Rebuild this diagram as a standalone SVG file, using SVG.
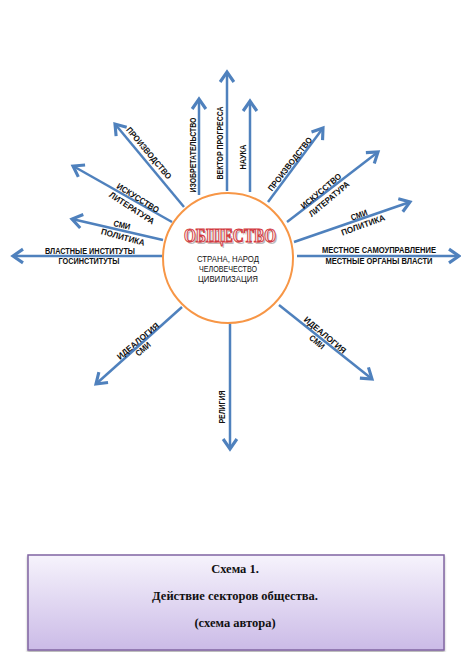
<svg xmlns="http://www.w3.org/2000/svg" width="461" height="652" viewBox="0 0 461 652">
<style>
.ar{stroke:#4f81bd;stroke-width:2.5;fill:none;marker-end:url(#ah)}
.lbl{font-family:"Liberation Sans",Arial,sans-serif;font-weight:bold;font-size:8.5px;fill:#111;text-anchor:middle}
.sub{font-family:"Liberation Sans",Arial,sans-serif;font-size:8.5px;fill:#111;text-anchor:middle}
.cap{font-family:"Liberation Serif","Times New Roman",serif;font-weight:bold;font-size:12.5px;fill:#111;text-anchor:middle}
</style>
<defs>
<marker id="ah" markerUnits="userSpaceOnUse" markerWidth="20" markerHeight="20" viewBox="-12 -8 14 16" refX="0" refY="0" orient="auto">
<path d="M-8,-5.5 L0,0 L-8,5.5" fill="none" stroke="#4f81bd" stroke-width="2.5"/>
</marker>
<linearGradient id="bg" x1="0" y1="0" x2="0" y2="1">
<stop offset="0" stop-color="#f6f3fc"/>
<stop offset="1" stop-color="#cbbbe7"/>
</linearGradient>
<filter id="sh" x="-5%" y="-5%" width="110%" height="120%">
<feDropShadow dx="0" dy="2" stdDeviation="1.2" flood-color="#000" flood-opacity="0.3"/>
</filter>
</defs>
<rect width="461" height="652" fill="#fff"/>
<g id="connectors">
<line class="ar" x1="162" y1="256" x2="13" y2="256"/>
<line class="ar" x1="163" y1="240" x2="72" y2="219"/>
<line class="ar" x1="172" y1="222" x2="73" y2="166"/>
<line class="ar" x1="184" y1="207" x2="115" y2="124"/>
<line class="ar" x1="199" y1="195" x2="199" y2="99"/>
<line class="ar" x1="227" y1="191" x2="227" y2="72"/>
<line class="ar" x1="250" y1="192" x2="250" y2="101"/>
<line class="ar" x1="268" y1="202" x2="323" y2="128"/>
<line class="ar" x1="287" y1="222" x2="378" y2="152"/>
<line class="ar" x1="294" y1="242" x2="410" y2="202"/>
<line class="ar" x1="297" y1="256" x2="459" y2="256"/>
<line class="ar" x1="182" y1="307" x2="96" y2="384"/>
<line class="ar" x1="279" y1="305" x2="372" y2="379"/>
<line class="ar" x1="230" y1="323" x2="230" y2="449"/>
</g>
<g id="center">
<circle cx="228" cy="258" r="65" fill="#fff" stroke="#f79646" stroke-width="2"/>
<text x="231.5" y="243.5" font-family="Liberation Serif,serif" font-weight="bold" font-size="19" text-anchor="middle" textLength="92" lengthAdjust="spacingAndGlyphs" fill="#bdbdbd">ОБЩЕСТВО</text>
<text x="230" y="242" font-family="Liberation Serif,serif" font-weight="bold" font-size="19" text-anchor="middle" textLength="92" lengthAdjust="spacingAndGlyphs" fill="#fbe6e6" stroke="#d23a40" stroke-width="1.1">ОБЩЕСТВО</text>
<text class="sub" x="228" y="262" textLength="62" lengthAdjust="spacingAndGlyphs">СТРАНА, НАРОД</text>
<text class="sub" x="228" y="272" textLength="58" lengthAdjust="spacingAndGlyphs">ЧЕЛОВЕЧЕСТВО</text>
<text class="sub" x="228" y="282" textLength="60" lengthAdjust="spacingAndGlyphs">ЦИВИЛИЗАЦИЯ</text>
</g>
<g id="labels-left">
<text class="lbl" x="90" y="254" textLength="90" lengthAdjust="spacingAndGlyphs">ВЛАСТНЫЕ ИНСТИТУТЫ</text>
<text class="lbl" x="89" y="264" textLength="61" lengthAdjust="spacingAndGlyphs">ГОСИНСТИТУТЫ</text>
<text class="lbl" transform="translate(122,225) rotate(13)" y="3" textLength="17" lengthAdjust="spacingAndGlyphs">СМИ</text>
<text class="lbl" transform="translate(123,237) rotate(15)" y="3" textLength="45" lengthAdjust="spacingAndGlyphs">ПОЛИТИКА</text>
<text class="lbl" transform="translate(138,198) rotate(32)" y="3" textLength="48" lengthAdjust="spacingAndGlyphs">ИСКУССТВО</text>
<text class="lbl" transform="translate(132,208) rotate(33)" y="3" textLength="52" lengthAdjust="spacingAndGlyphs">ЛИТЕРАТУРА</text>
<text class="lbl" transform="translate(149,153) rotate(50)" y="3" textLength="65" lengthAdjust="spacingAndGlyphs">ПРОИЗВОДСТВО</text>
<text class="lbl" transform="translate(193,155) rotate(-90)" y="3" textLength="75" lengthAdjust="spacingAndGlyphs">ИЗОБРЕТАТЕЛЬСТВО</text>
<text class="lbl" transform="translate(220,143) rotate(-90)" y="3" textLength="73" lengthAdjust="spacingAndGlyphs">ВЕКТОР ПРОГРЕССА</text>
<text class="lbl" transform="translate(138,341) rotate(-40)" y="3" textLength="52" lengthAdjust="spacingAndGlyphs">ИДЕАЛОГИЯ</text>
<text class="lbl" transform="translate(143,349) rotate(-40)" y="3" textLength="17" lengthAdjust="spacingAndGlyphs">СМИ</text>
<text class="lbl" transform="translate(222,407) rotate(-90)" y="3" textLength="33" lengthAdjust="spacingAndGlyphs">РЕЛИГИЯ</text>
</g>
<g id="labels-right">
<text class="lbl" transform="translate(243,157) rotate(-90)" y="3" textLength="25" lengthAdjust="spacingAndGlyphs">НАУКА</text>
<text class="lbl" transform="translate(290,164) rotate(-52)" y="3" textLength="66" lengthAdjust="spacingAndGlyphs">ПРОИЗВОДСТВО</text>
<text class="lbl" transform="translate(321,191) rotate(-40)" y="3" textLength="50" lengthAdjust="spacingAndGlyphs">ИСКУССТВО</text>
<text class="lbl" transform="translate(329,199) rotate(-40)" y="3" textLength="50" lengthAdjust="spacingAndGlyphs">ЛИТЕРАТУРА</text>
<text class="lbl" transform="translate(359,215) rotate(-20)" y="3" textLength="17" lengthAdjust="spacingAndGlyphs">СМИ</text>
<text class="lbl" transform="translate(363,225) rotate(-20)" y="3" textLength="46" lengthAdjust="spacingAndGlyphs">ПОЛИТИКА</text>
<text class="lbl" x="379" y="253" textLength="114" lengthAdjust="spacingAndGlyphs">МЕСТНОЕ САМОУПРАВЛЕНИЕ</text>
<text class="lbl" x="379" y="264" textLength="107" lengthAdjust="spacingAndGlyphs">МЕСТНЫЕ ОРГАНЫ ВЛАСТИ</text>
<text class="lbl" transform="translate(325,335) rotate(40)" y="3" textLength="52" lengthAdjust="spacingAndGlyphs">ИДЕАЛОГИЯ</text>
<text class="lbl" transform="translate(317,342) rotate(40)" y="3" textLength="17" lengthAdjust="spacingAndGlyphs">СМИ</text>
</g>
<g id="caption">
<rect x="28" y="555" width="416" height="95" fill="url(#bg)" stroke="#8064a2" stroke-width="1.5" filter="url(#sh)"/>
<text class="cap" x="235" y="572.5">Схема 1.</text>
<text class="cap" x="235" y="599.5">Действие секторов  общества.</text>
<text class="cap" x="235" y="626.5">(схема автора)</text>
</g>
</svg>
